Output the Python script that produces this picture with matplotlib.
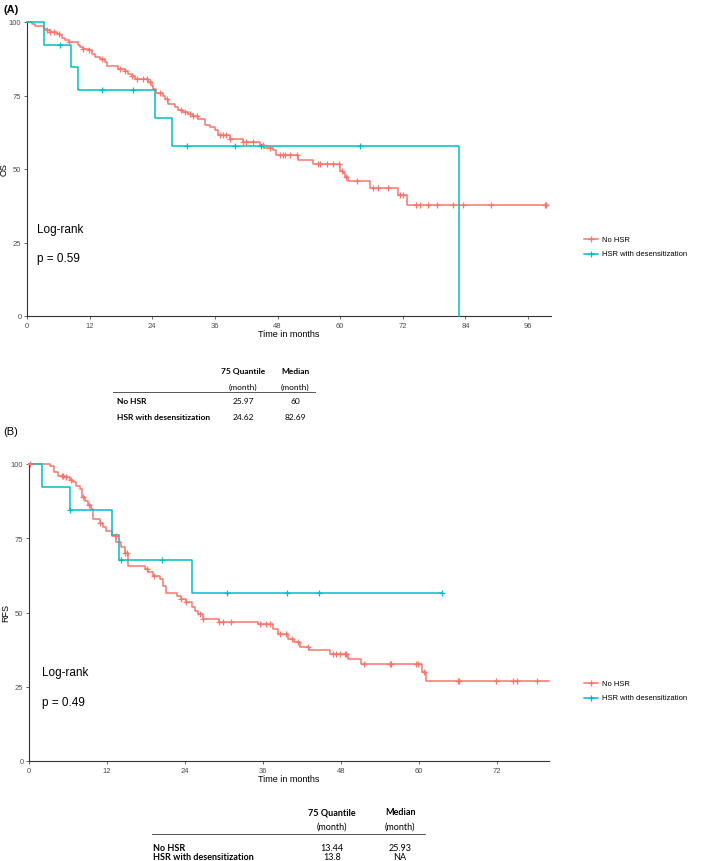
import matplotlib.pyplot as plt
import numpy as np

plt.rcParams['font.family'] = ['Liberation Sans', 'DejaVu Sans']

RED = '#F8766D'
TEAL = '#00BFC4'

# ---- (A) OS ----
os_no_t = [0, 0.96, 1.5, 3.2, 3.8, 4.5, 5.7, 6.4, 6.7, 7.3,
           8.0, 9.7, 10.2, 10.8, 11.8, 12.4, 13.1, 14.0, 15.0, 15.3,
           17.5, 18.8, 19.4, 20.1, 20.7, 23.2, 23.9, 24.2, 24.8, 25.97,
           26.5, 27.1, 28.3, 29.0, 29.9, 30.9, 31.8, 32.8, 34.1, 35.0,
           36.0, 36.6, 38.9, 41.4, 44.6, 45.5, 47.1, 47.8, 52.0, 54.8,
           60.0, 60.5, 61.0, 61.5, 65.7, 71.1, 72.8]
os_no_s = [100, 99.4, 98.6, 97.7, 97.2, 96.6, 96.0, 95.5, 94.6, 93.8,
           93.2, 92.3, 91.5, 90.9, 90.4, 89.2, 88.1, 87.3, 86.4, 84.9,
           84.1, 83.2, 82.4, 81.6, 80.7, 79.6, 78.2, 77.3, 76.0, 74.8,
           73.9, 72.2, 71.1, 70.0, 69.4, 68.8, 68.0, 67.1, 65.1, 64.3,
           63.2, 61.5, 60.3, 59.2, 58.0, 57.1, 56.3, 54.6, 52.9, 51.6,
           49.4, 48.5, 47.3, 45.8, 43.5, 41.0, 37.6]
os_no_cens = [3.8, 4.5, 5.1, 6.1, 8.0, 10.8, 11.8, 14.3, 17.8, 18.8, 20.1, 21.0,
              22.3, 22.9, 23.6, 25.5, 26.8, 29.6, 30.3, 31.2, 31.8, 32.5, 36.9,
              37.6, 38.2, 38.9, 41.4, 42.0, 43.3, 45.2, 46.5, 48.4, 49.0, 49.5,
              50.4, 51.7, 55.8, 56.1, 57.4, 58.7, 59.8, 60.3, 61.2, 63.2, 66.2,
              67.3, 69.2, 71.5, 72.0, 74.6, 75.3, 76.9, 78.5, 81.7, 83.5, 88.9,
              99.2, 99.5]
os_no_end = 99.6

os_hsr_t = [0, 3.2, 8.4, 9.7, 24.62, 27.8, 82.69]
os_hsr_s = [100, 92.3, 84.6, 76.9, 67.3, 57.7, 0]
os_hsr_cens = [6.4, 14.3, 20.4, 30.6, 39.8, 44.8, 63.8]
os_hsr_end = 82.69

# ---- (B) RFS ----
rfs_no_t = [0, 3.2, 3.9, 4.5, 5.5, 6.3, 6.8, 7.3, 7.8, 8.1,
            8.6, 9.1, 9.6, 9.8, 10.9, 11.4, 11.9, 12.8, 13.44, 14.2,
            14.7, 15.2, 17.8, 18.3, 19.1, 20.1, 20.6, 21.0, 22.7, 23.4,
            24.2, 25.0, 25.5, 25.93, 26.8, 29.3, 35.2, 37.5, 38.3, 39.9,
            40.7, 41.7, 43.0, 46.3, 49.1, 51.1, 60.4, 61.0]
rfs_no_s = [100, 99.2, 97.2, 96.1, 95.5, 94.7, 93.8, 92.7, 91.6, 88.8,
            87.6, 86.2, 84.8, 81.5, 80.0, 78.7, 77.5, 75.8, 73.6, 71.9,
            70.2, 65.7, 64.6, 63.7, 62.4, 61.2, 59.0, 56.7, 55.6, 54.5,
            53.4, 51.7, 50.6, 49.4, 47.8, 46.9, 46.1, 44.4, 42.7, 41.0,
            39.9, 38.5, 37.4, 36.0, 34.5, 32.5, 29.8, 27.0]
rfs_no_cens = [0.2, 5.0, 5.2, 5.7, 6.5, 8.3, 9.3, 10.9, 13.4, 14.7, 15.0, 18.1,
               19.3, 23.4, 24.2, 26.3, 26.8, 29.3, 29.8, 31.1, 35.5, 36.5, 37.0,
               38.6, 39.6, 40.5, 41.4, 42.9, 46.8, 47.3, 47.8, 48.6, 48.8, 51.5,
               55.5, 55.7, 59.6, 59.8, 60.7, 66.0, 66.2, 71.9, 74.5, 75.1, 78.2]
rfs_no_end = 80

rfs_hsr_t = [0, 2.0, 6.3, 12.7, 13.8, 25.1]
rfs_hsr_s = [100, 92.3, 84.6, 76.2, 67.7, 56.4]
rfs_hsr_cens = [6.3, 14.2, 20.5, 30.4, 39.7, 44.6, 63.6]
rfs_hsr_end = 63.6

groups = ['No HSR', 'HSR with desensitization']
table_cols = ['75 Quantile', 'Median']
table_a = [['25.97', '60'], ['24.62', '82.69']]
table_b = [['13.44', '25.93'], ['13.8', 'NA']]

W, H = 709, 862
fig = plt.figure(figsize=(W / 100, H / 100), dpi=100)


def px(x0, y0, x1, y1):
    return [x0 / W, 1 - y1 / H, (x1 - x0) / W, (y1 - y0) / H]


def km(ax, t, s, cens, end, color):
    t = list(t) + [end]
    s = list(s) + [s[-1]]
    ax.step(t, s, where='post', color=color, lw=1.1, clip_on=False, zorder=3)
    idx = np.searchsorted(t[:-1], cens, side='right') - 1
    ys = np.array(s)[idx]
    ax.plot(cens, ys, ls='none', marker='+', ms=5, mew=0.9, color=color,
            clip_on=False, zorder=4)


def style(ax, xmax, xticks, ylabel, lab_x):
    ax.set_xlim(0, xmax)
    ax.set_ylim(0, 100)
    ax.set_xticks(xticks)
    ax.set_yticks([0, 25, 50, 75, 100])
    for sp in ['top', 'right']:
        ax.spines[sp].set_visible(False)
    for sp in ['left', 'bottom']:
        ax.spines[sp].set_color('#333333')
        ax.spines[sp].set_linewidth(0.8)
    ax.tick_params(labelsize=5.5, colors='#4D4D4D', length=2.5, width=0.6, pad=1.5)
    ax.set_ylabel(ylabel, fontsize=6.5)
    ax.yaxis.set_label_coords(lab_x, 0.5)
    ax.set_xlabel('Time in months', fontsize=6.5, labelpad=0.5)


def legend(y0):
    for i, (g, c) in enumerate(zip(groups, [RED, TEAL])):
        yy = y0 + i * 15
        fig.add_artist(plt.Line2D([584 / W, 598 / W], [1 - yy / H] * 2, color=c, lw=1.1))
        fig.add_artist(plt.Line2D([591 / W], [1 - yy / H], marker='+', ms=5, mew=0.9, color=c))
        fig.text(602 / W, 1 - yy / H, g, fontsize=5.5, va='center', ha='left')


def table(rows, x_lab, x_c1, x_c2, x_line0, x_line1, y_head, y_sub, y_line, y_rows, fs):
    tf = ['Lato', 'DejaVu Sans']
    for name, xc in zip(table_cols, [x_c1, x_c2]):
        fig.text(xc / W, 1 - y_head / H, name, fontsize=fs, weight='bold', ha='center',
                 va='center', family=tf)
        fig.text(xc / W, 1 - y_sub / H, '(month)', fontsize=fs, ha='center', va='center',
                 family=tf)
    fig.add_artist(plt.Line2D([x_line0 / W, x_line1 / W], [1 - y_line / H] * 2,
                              color='#555555', lw=0.7))
    for g, vals, yy in zip(groups, rows, y_rows):
        fig.text(x_lab / W, 1 - yy / H, g, fontsize=fs, weight='bold', ha='left',
                 va='center', family=tf)
        for v, xc in zip(vals, [x_c1, x_c2]):
            fig.text(xc / W, 1 - yy / H, v, fontsize=fs, ha='center', va='center', family=tf)


# panel A
axA = fig.add_axes(px(27, 23, 551, 317))
km(axA, os_no_t, os_no_s, os_no_cens, os_no_end, RED)
km(axA, os_hsr_t, os_hsr_s, os_hsr_cens, os_hsr_end, TEAL)
style(axA, 100.4, np.arange(0, 97, 12), 'OS', -0.036)
axA.text(0.02, 0.296, 'Log-rank', transform=axA.transAxes, fontsize=8.5, va='center')
axA.text(0.02, 0.197, 'p = 0.59', transform=axA.transAxes, fontsize=8.5, va='center')
fig.text(3 / W, 1 - 10 / H, '(A)', fontsize=8, weight='bold', va='center')
legend(240)
table(table_a, 117, 243, 295, 113, 315, 372, 387, 393, [402, 417], 6)

# panel B
axB = fig.add_axes(px(29, 465, 549, 762))
km(axB, rfs_no_t, rfs_no_s, rfs_no_cens, rfs_no_end, RED)
km(axB, rfs_hsr_t, rfs_hsr_s, rfs_hsr_cens, rfs_hsr_end, TEAL)
style(axB, 80, np.arange(0, 73, 12), 'RFS', -0.036)
axB.text(0.025, 0.30, 'Log-rank', transform=axB.transAxes, fontsize=8.5, va='center')
axB.text(0.025, 0.20, 'p = 0.49', transform=axB.transAxes, fontsize=8.5, va='center')
fig.text(3 / W, 1 - 432 / H, '(B)', fontsize=8, va='center')
legend(684)
table(table_b, 153, 332, 400, 152, 425, 813, 827, 835, [849, 858], 6.5)

fig.savefig('out.png', dpi=100)
